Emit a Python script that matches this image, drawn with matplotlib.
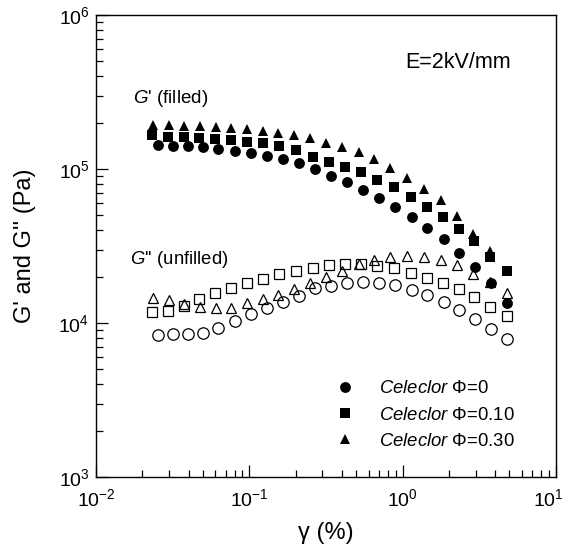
import matplotlib
matplotlib.use('Agg')
import matplotlib.pyplot as plt
from matplotlib.transforms import ScaledTranslation


# Strain amplitude (%) for each filler fraction
gamma_phi0 = [0.0254, 0.0318, 0.0399, 0.0499, 0.0626, 0.0804, 0.102, 0.130, 0.165, 0.211,
              0.268, 0.339, 0.431, 0.549, 0.701, 0.892, 1.15, 1.45, 1.86, 2.35,
              2.97, 3.76, 4.79]
gamma_phi10 = [0.0230, 0.0295, 0.0373, 0.0470, 0.0595, 0.0754, 0.0959, 0.123, 0.156, 0.200,
               0.261, 0.332, 0.421, 0.537, 0.686, 0.879, 1.13, 1.44, 1.83, 2.34,
               2.94, 3.75, 4.79]
gamma_phi30 = [0.0235, 0.0299, 0.0375, 0.0475, 0.0604, 0.0755, 0.0959, 0.122, 0.154, 0.195,
               0.247, 0.315, 0.400, 0.517, 0.655, 0.832, 1.07, 1.38, 1.78, 2.27,
               2.90, 3.72, 4.79]

# G' (filled symbols), Pa
gp_phi0 = [143200, 142100, 141000, 139000, 134900, 130900, 127000, 121500, 117000, 110200,
           99560, 90040, 81980, 73040, 64520, 56400, 48580, 41200, 34960, 28610,
           23210, 18180, 13550]
gp_phi10 = [166300, 162100, 160600, 158200, 155900, 154300, 150400, 146900, 141000, 132900,
            120200, 111500, 103500, 95200, 84820, 76060, 66090, 56900, 48790, 40900,
            33980, 26950, 21860]
gp_phi30 = [193100, 193100, 191100, 190200, 188300, 183800, 181900, 177300, 170600, 166300,
            158200, 148200, 139600, 128300, 115600, 101000, 87000, 73820, 62910, 49900,
            37840, 29570]

# G'' (open symbols), Pa
gpp_phi0 = [8360, 8445, 8445, 8574, 9240, 10300, 11390, 12460, 13630, 15090,
            16800, 17390, 18270, 18380, 18270, 17650, 16380, 15200, 13750, 12060,
            10570, 9100, 7840]
gpp_phi10 = [11840, 12020, 12890, 14250, 15730, 16950, 18100, 19220, 20710, 21920,
             22930, 23800, 24160, 24060, 23450, 22660, 21210, 19690, 18270, 16550,
             14690, 12760, 11100]
gpp_phi30 = [14470, 14110, 13220, 12760, 12460, 12570, 13420, 14250, 15200, 16550,
             18180, 19980, 21860, 24060, 25660, 26950, 27350, 26950, 25850, 23800,
             20890, 18540, 15590]

labels = [r'$\mathit{Celeclor}$ Φ=0', r'$\mathit{Celeclor}$ Φ=0.10', r'$\mathit{Celeclor}$ Φ=0.30']


def main():
    plt.rcParams['font.family'] = ['Liberation Sans', 'DejaVu Sans']
    plt.rcParams['mathtext.fontset'] = 'custom'
    plt.rcParams['mathtext.rm'] = 'Liberation Sans'
    plt.rcParams['mathtext.it'] = 'Liberation Sans:italic'

    fig = plt.figure(figsize=(5.69, 5.53), dpi=100)
    ax = fig.add_axes([0.1694, 0.1374, 0.807, 0.8354])

    # filled: G'
    ax.plot(gamma_phi0, gp_phi0, 'o', color='black', ms=7.8, mew=0, label=labels[0])
    ax.plot(gamma_phi10, gp_phi10, 's', color='black', ms=7.0, mew=0, label=labels[1])
    ax.plot(gamma_phi30[:len(gp_phi30)], gp_phi30, '^', color='black', ms=7.8, mew=0,
            label=labels[2])

    # open: G''
    ax.plot(gamma_phi0, gpp_phi0, 'o', mfc='white', mec='black', ms=8.2, mew=0.9)
    ax.plot(gamma_phi10, gpp_phi10, 's', mfc='none', mec='black', ms=7.0, mew=0.9)
    ax.plot(gamma_phi30, gpp_phi30, '^', mfc='none', mec='black', ms=7.4, mew=0.9)

    ax.set_xscale('log')
    ax.set_yscale('log')
    ax.set_xlim(1e-2, 1e1)
    ax.set_ylim(1e3, 1e6)

    ax.tick_params(which='both', direction='in', top=False, right=False, width=0.9)
    ax.tick_params(which='major', length=8.5, labelsize=14)
    ax.tick_params(which='minor', length=4.8)
    ax.tick_params(axis='x', which='major', pad=8)
    ax.tick_params(axis='y', which='major', pad=5)
    for sp in ax.spines.values():
        sp.set_linewidth(1.0)

    # keep the 10^1 label inside the figure edge
    fig.canvas.draw()
    last = ax.xaxis.get_major_ticks()[-1]
    for t in ax.xaxis.get_major_ticks():
        if abs(t.get_loc() - 10.0) < 1e-9:
            last = t
    last.label1.set_transform(last.label1.get_transform() +
                              ScaledTranslation(-5 / 72, 0, fig.dpi_scale_trans))

    ax.set_xlabel('γ (%)', fontsize=17)
    ax.set_ylabel("G' and G'' (Pa)", fontsize=17)
    ax.xaxis.set_label_coords(0.5, -0.098)
    ax.yaxis.set_label_coords(-0.132, 0.5)

    ax.text(0.672, 0.898, 'E=2kV/mm', transform=ax.transAxes, fontsize=15.5, va='center')
    ax.text(0.08, 0.82, r"$\mathit{G}$' (filled)", transform=ax.transAxes, fontsize=13.5,
            va='center')
    ax.text(0.073, 0.47, r"$\mathit{G}$'' (unfilled)", transform=ax.transAxes, fontsize=13.3,
            va='center')

    ax.legend(loc='upper left', bbox_to_anchor=(0.521, 0.209), frameon=False, fontsize=13.3,
              handlelength=1.0, handletextpad=1.35, borderpad=0, borderaxespad=0,
              labelspacing=0.5)

    fig.savefig('out.png', dpi=100)


if __name__ == "__main__":
    main()
